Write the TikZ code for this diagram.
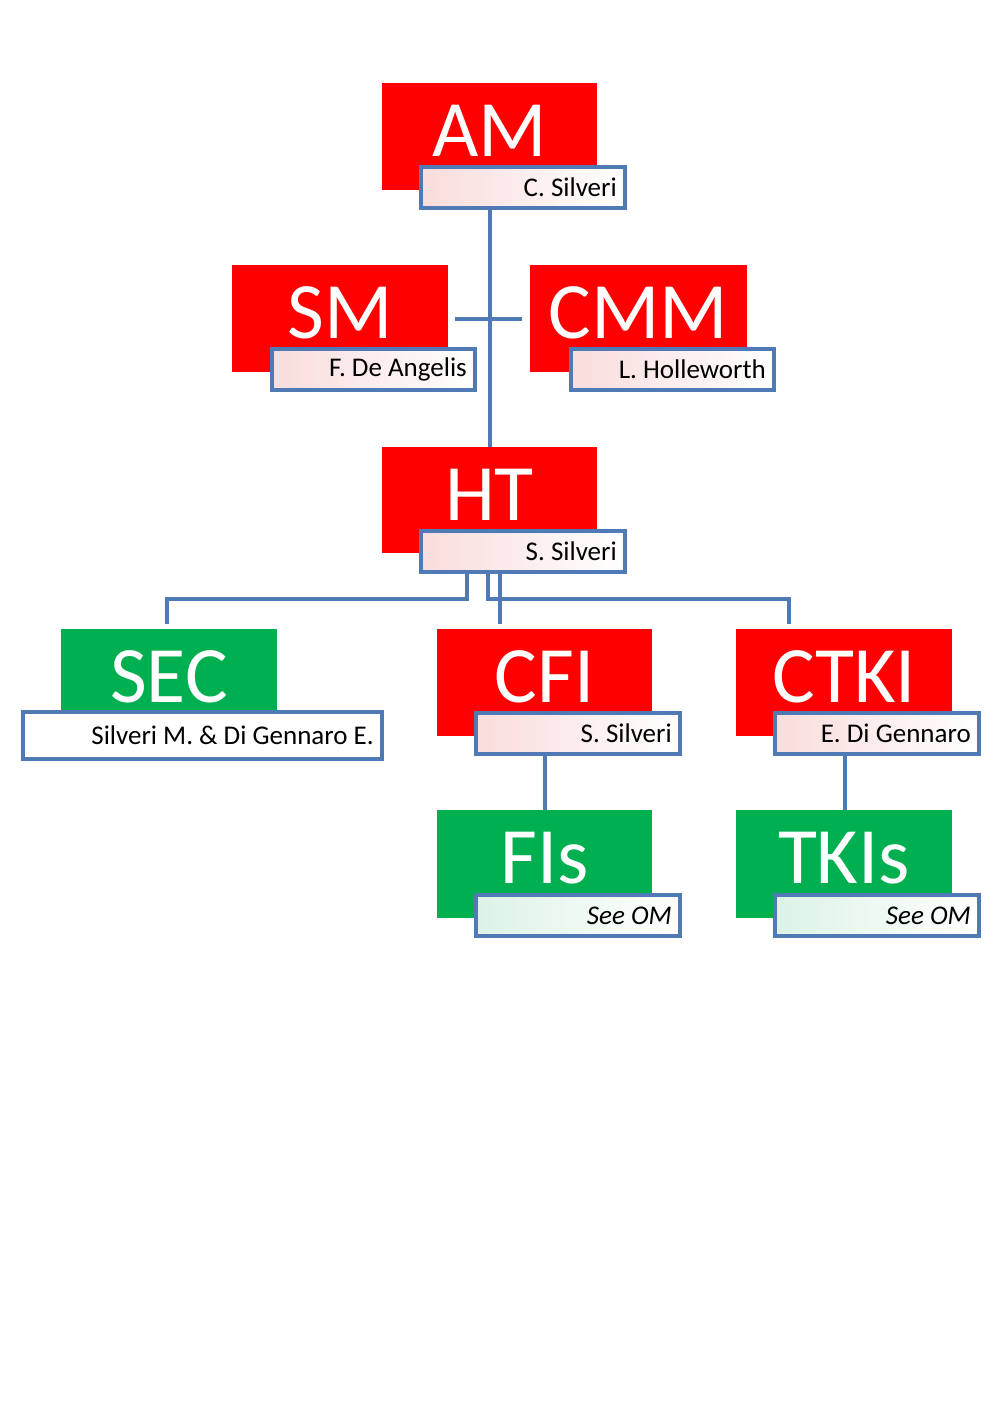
\documentclass[tikz,border=0pt]{standalone}
\usepackage{fontspec}
\setmainfont{Carlito}
\definecolor{bx}{HTML}{FF0000}
\definecolor{gx}{HTML}{00B050}
\definecolor{ln}{HTML}{4F7AB5}
\definecolor{pk}{HTML}{FADCDC}
\definecolor{lg}{HTML}{DDF3E6}
\tikzset{
 big/.style={font=\fontsize{80}{80}\selectfont,text=white,anchor=center},
 conn/.style={draw=ln,line width=4.5pt},
 tx/.style={font=\fontsize{27}{27}\selectfont,anchor=east,inner sep=0pt}
}
\newcommand{\orgbox}[6]{%
 \fill[#5] (#1,#2) rectangle (#3,#4);
 \node[big] (b#6) at ({(#1+#3)/2},{#2+48}) {#6};}
\newcommand{\orglab}[6]{%
 \shade[left color=#5,right color=white] (#1,#2) rectangle (#3,#4);
 \draw[ln,line width=4pt] (#1,#2) rectangle (#3,#4);
 \node[tx] at ({#3-8},{(#2+#4)/2}) {#6};}
\begin{document}
\begin{tikzpicture}[x=1pt,y=-1pt]
\useasboundingbox (0,0) rectangle (1000,1415);
% connectors
\draw[conn] (490,208) -- (490,447);
\draw[conn] (455,319) -- (522,319);
\draw[conn] (467,572) -- (467,599) -- (167,599) -- (167,624);
\draw[conn] (488,572) -- (488,599) -- (789,599) -- (789,624);
\draw[conn] (500,572) -- (500,624);
\draw[conn] (545,754) -- (545,810);
\draw[conn] (845,754) -- (845,810);
% boxes
\orgbox{382}{83}{597}{190}{bx}{AM}
\orgbox{232}{265}{448}{372}{bx}{SM}
\orgbox{530}{265}{747}{372}{bx}{CMM}
\orgbox{382}{447}{597}{553}{bx}{HT}
\orgbox{61}{629}{277}{712}{gx}{SEC}
\orgbox{437}{629}{652}{736}{bx}{CFI}
\orgbox{736}{629}{952}{736}{bx}{CTKI}
\orgbox{437}{810}{652}{918}{gx}{FIs}
\orgbox{736}{810}{952}{918}{gx}{TKIs}
% labels
\orglab{421}{167}{625}{208}{pk}{C. Silveri}
\orglab{272}{349}{475}{390}{pk}{F. De Angelis}
\orglab{571}{349}{774}{390}{pk}{L. Holleworth}
\orglab{421}{531}{625}{572}{pk}{S. Silveri}
\orglab{23}{712}{382}{759}{white}{Silveri M. \& Di Gennaro E.}
\orglab{476}{713}{680}{754}{pk}{S. Silveri}
\orglab{775}{713}{979}{754}{pk}{E. Di Gennaro}
\orglab{476}{895}{680}{936}{lg}{\itshape See OM}
\orglab{775}{895}{979}{936}{lg}{\itshape See OM}
\end{tikzpicture}
\end{document}
